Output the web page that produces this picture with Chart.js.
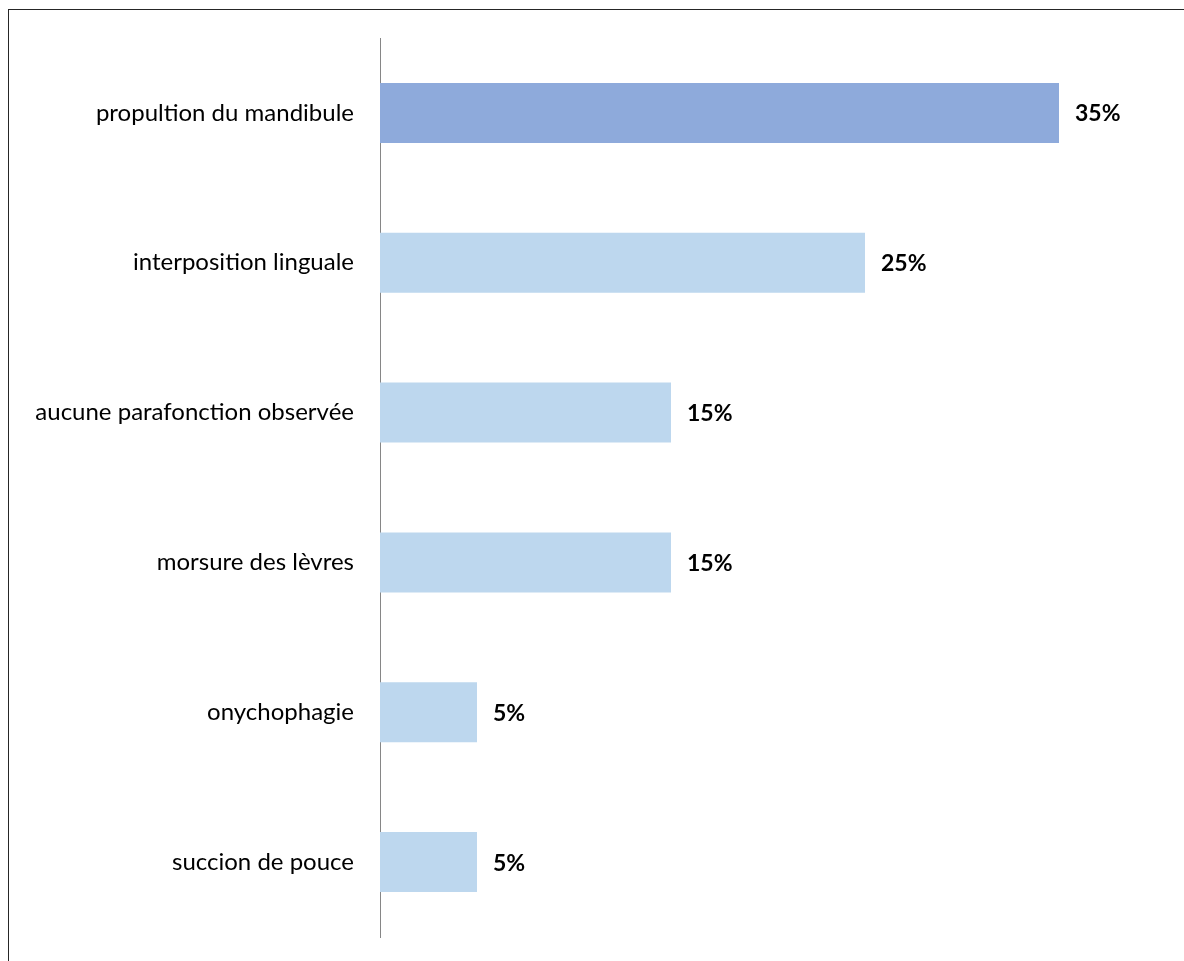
<!DOCTYPE html>
<html>
<head>
<meta charset="utf-8">
<script src="https://cdn.jsdelivr.net/npm/chart.js@4.4.1/dist/chart.umd.min.js"></script>
<style>
  html, body { margin: 0; padding: 0; background: #fff; overflow: hidden; }
  #frame { position: absolute; left: 8px; top: 9px; width: 1200px; height: 1000px; border: 1px solid #262626; box-sizing: border-box; }
  #wrap { position: absolute; left: 0; top: 0; width: 1184px; height: 961px; }
  canvas { display: block; }
</style>
</head>
<body>
<div id="frame"></div>
<div id="wrap"><canvas id="c" width="1184" height="961"></canvas></div>
<script>
const categories = [
  "propultion du mandibule",
  "interposition linguale",
  "aucune parafonction observée",
  "morsure des lèvres",
  "onychophagie",
  "succion de pouce"
];
const values = [35, 25, 15, 15, 5, 5];
const barColors = ["#8EAADB", "#BDD7EE", "#BDD7EE", "#BDD7EE", "#BDD7EE", "#BDD7EE"];

const FONT = "Lato, 'Open Sans', sans-serif";

const valueLabels = {
  id: 'valueLabels',
  afterDatasetsDraw(chart) {
    const ctx = chart.ctx;
    const meta = chart.getDatasetMeta(0);
    ctx.save();
    ctx.font = "bold 23px " + FONT;
    ctx.fillStyle = "#000";
    ctx.textAlign = "left";
    ctx.textBaseline = "middle";
    meta.data.forEach((bar, i) => {
      ctx.fillText(values[i] + "%", bar.x + 16, bar.y + 1);
    });
    ctx.restore();
  }
};

new Chart(document.getElementById('c'), {
  type: 'bar',
  data: {
    labels: categories,
    datasets: [{
      data: values,
      backgroundColor: barColors,
      borderWidth: 0,
      categoryPercentage: 1.0,
      barPercentage: 0.4
    }]
  },
  plugins: [valueLabels],
  options: {
    indexAxis: 'y',
    responsive: false,
    animation: false,
    devicePixelRatio: 1,
    layout: { padding: { top: 38, bottom: 24, left: 0, right: 28 } },
    plugins: { legend: { display: false }, tooltip: { enabled: false } },
    scales: {
      x: { display: false, min: 0, max: 40 },
      y: {
        afterFit(scale) { scale.width = 380; scale.paddingTop = 0; scale.paddingBottom = 0; },
        grid: { display: false, drawTicks: false },
        border: { display: true, color: '#868686', width: 1 },
        ticks: { color: '#000', padding: 26, font: { family: FONT, size: 24 } }
      }
    }
  }
});
</script>
</body>
</html>
